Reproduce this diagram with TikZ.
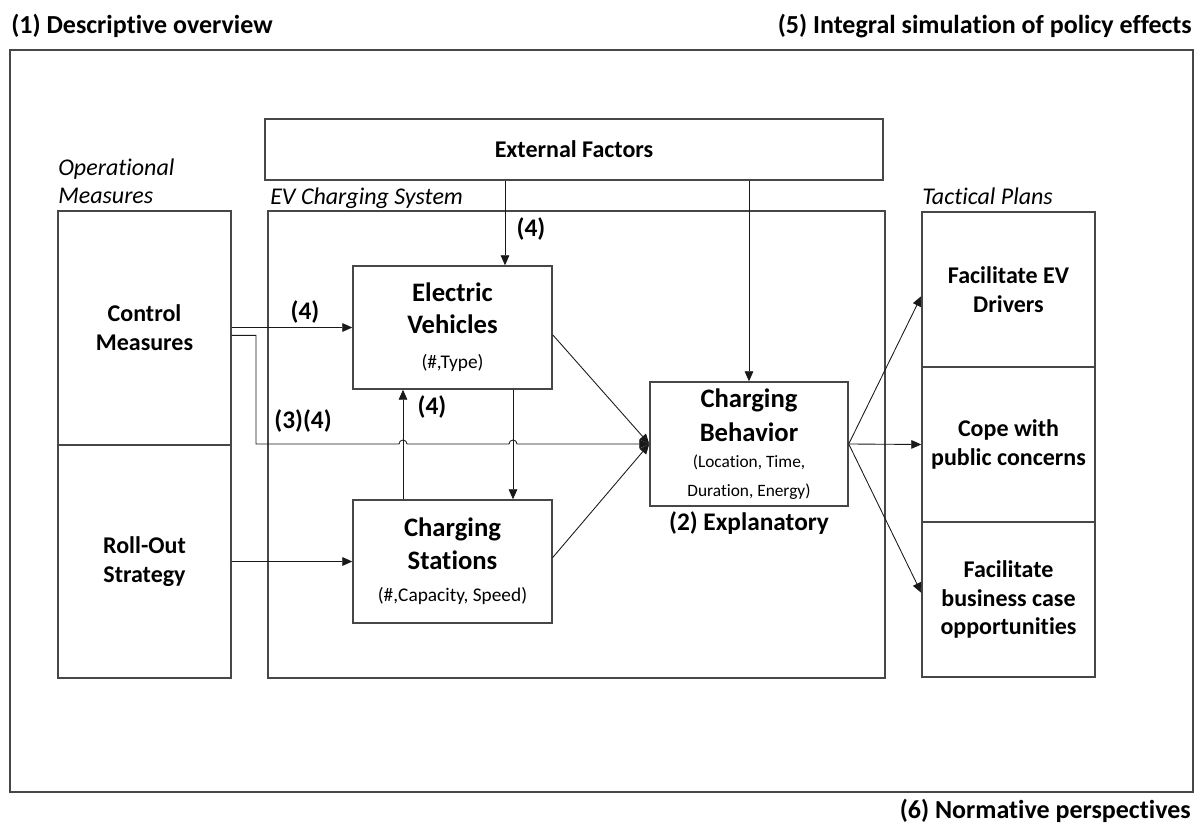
\documentclass[tikz,border=0pt]{standalone}
\usepackage{fontspec}
\setmainfont{Carlito}[Ligatures={NoCommon}]
\usetikzlibrary{arrows.meta}

\begin{document}
\begin{tikzpicture}[x=0.75pt,y=-0.75pt,
  box/.style={draw=black!72, line width=1.1pt, inner sep=0pt, align=center, rectangle},
  conn/.style={draw=black!90, line width=0.65pt},
  arr/.style={conn, -{Triangle[length=7.5pt,width=6.5pt]}},
  bigbold/.style={font=\bfseries\fontsize{20}{24}\selectfont},
  midbold/.style={font=\bfseries\fontsize{18}{21.5}\selectfont},
  heading/.style={font=\bfseries\fontsize{19.5}{23}\selectfont, inner sep=0pt},
  group/.style={font=\itshape\fontsize{18}{21}\selectfont, inner sep=0pt, anchor=base west},
  step4/.style={font=\bfseries\fontsize{19}{22}\selectfont, inner sep=0pt},
  tall/.style={minimum width=129.75pt, minimum height=116.25pt},
  inner/.style={minimum width=149.25pt, minimum height=92.25pt},
]
\newcommand\subtxt{\mdseries\fontsize{14.5}{17}\selectfont}
\newcommand\cbtxt{\mdseries\fontsize{13}{15}\selectfont}
\useasboundingbox (0,0) rectangle (1202,830);

% outer frame and its captions
\node[box, minimum width=887.25pt, minimum height=556.5pt] (frame) at (601.5,421) {};
\node[heading, anchor=base west] (t1) at (11,34) {(1) Descriptive overview};
\node[heading, anchor=base east] (t5) at (1192,34) {(5) Integral simulation of policy effects};
\node[heading, anchor=base east] (t6) at (1191,818) {(6) Normative perspectives};

% group captions
\node[group] (gop1) at (58,176) {Operational};
\node[group] (gop2) at (58,204) {Measures};
\node[group] (gsys) at (270,205) {EV Charging System};
\node[group] (gtac) at (922,205) {Tactical Plans};

% operational measures
\node[box, midbold, minimum width=129.75pt, minimum height=175.5pt] (ctrl) at (144.5,328) {Control\\Measures};
\node[box, midbold, minimum width=129.75pt, minimum height=174.75pt] (roll) at (144.5,561.5) {Roll-Out\\Strategy};

% EV charging system
\node[box, minimum width=462.75pt, minimum height=350.25pt] (sys) at (576.5,444.5) {};
\node[box, midbold, minimum width=463.5pt, minimum height=45.75pt] (ext) at (574,149.5) {External Factors};
\node[box, bigbold, inner] (ev) at (452.5,327.5)
  {Electric\\Vehicles\\[2pt]{\subtxt (\#,Type)}};
\node[box, bigbold, inner] (cs) at (452.5,561.5)
  {Charging\\[1pt]Stations\\{\subtxt (\#,Capacity, Speed)}};
\node[box, bigbold, minimum width=148.5pt, minimum height=93pt] (cb) at (749,444)
  {Charging\\[2pt]Behavior\\[-5pt]{\cbtxt (Location, Time,}\\[-2pt]{\cbtxt Duration, Energy)}};
\node[step4] (expl) at (749,523) {(2) Explanatory};

% tactical plans
\node[box, midbold, tall] (fac) at (1008.5,289.5) {Facilitate EV\\Drivers};
\node[box, midbold, tall] (cope) at (1008.5,444.5) {Cope with\\public concerns};
\node[box, midbold, tall] (bus) at (1008.5,599.5) {Facilitate\\business case\\opportunities};

% routing points
\coordinate (bend) at (256,444);
\coordinate (up) at (403,444);
\coordinate (dn) at (513,444);
\coordinate (xa) at (505,150);

% connectors
\draw[arr] (ev.west -| ctrl.east) -- (ev.west);
\draw[arr] (roll.east) -- (cs.west);
\draw[arr] (ext.south -| xa) -- (ev.north -| xa);
\draw[arr] (ext.south -| cb.north) -- (cb.north);
\draw[arr] (cs.north -| up) -- (ev.south -| up);
\draw[arr] (ev.south -| dn) -- (cs.north -| dn);
\draw[arr] ([yshift=-5.5pt]ctrl.east) -| (bend)
  -- ([xshift=-3pt]up) arc[start angle=180, end angle=0, radius=3pt]
  -- ([xshift=-3pt]dn) arc[start angle=180, end angle=0, radius=3pt]
  -- (cb.west);
\draw[arr] ([yshift=-5.5pt]ev.east) -- (cb.west);
\draw[arr] ([yshift=3pt]cs.east) -- (cb.west);
\draw[arr] (cb.east) -- ([yshift=-5pt]fac.west);
\draw[arr] (cb.east) -- (cope.west);
\draw[arr] (cb.east) -- ([yshift=5pt]bus.west);

% step labels
\node[step4] (l1) at (305,312) {(4)};
\node[step4] (l2) at (303,421) {(3)(4)};
\node[step4] (l3) at (432,407) {(4)};
\node[step4] (l4) at (531,229) {(4)};
\end{tikzpicture}
\end{document}
